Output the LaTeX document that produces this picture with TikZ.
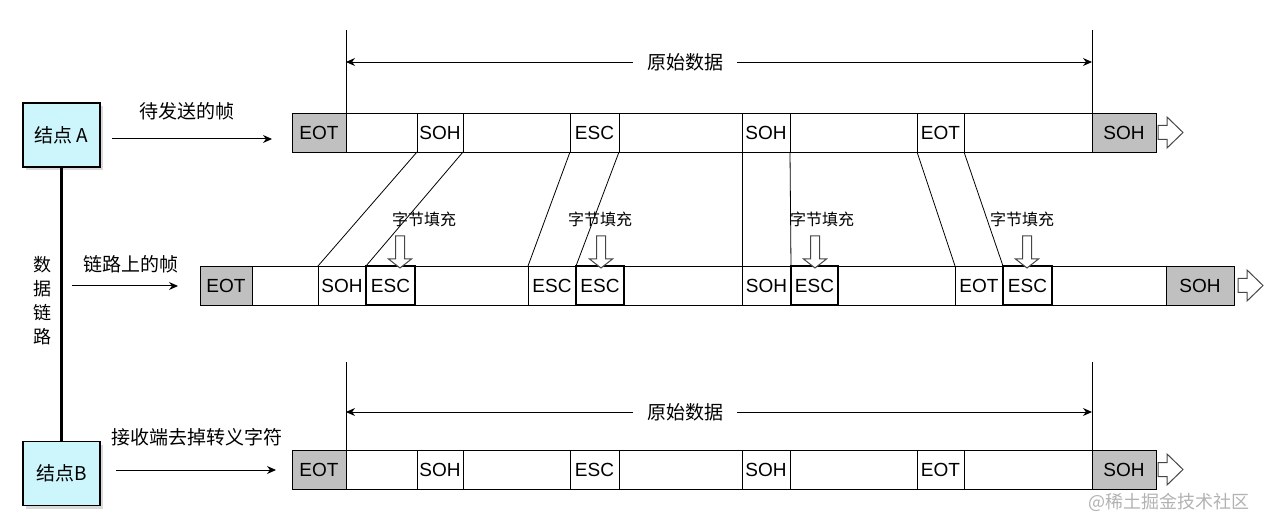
\documentclass[tikz,border=0pt]{standalone}
\usepackage{fontspec}
\setmainfont{Liberation Sans}
\newfontfamily\cjk{Noto Sans CJK SC}
\usepackage{tikz}
\usetikzlibrary{arrows.meta,shadows}
\usepackage{xcolor}
\definecolor{cellgray}{RGB}{192,192,192}
\definecolor{nodecyan}{RGB}{204,246,252}
\definecolor{hollow}{RGB}{70,70,70}
\definecolor{wmark}{RGB}{178,178,178}
\tikzset{
  fcell/.style={draw=black,line width=0.9pt,minimum height=39pt,inner sep=0pt,
    outer sep=0pt,anchor=west,font=\fontsize{19}{19}\selectfont},
  fstuff/.style={fcell,line width=1.3pt},
  fnode/.style={draw=black,line width=1.2pt,fill=nodecyan,inner sep=0pt,
    minimum width=77pt,minimum height=64pt,font=\fontsize{19}{19}\selectfont\cjk,
    drop shadow={shadow xshift=3pt,shadow yshift=-3pt,fill=black,opacity=0.15}},
  flink/.style={line width=1pt,-{Stealth[length=9pt,width=8pt]}},
  fdim/.style={line width=0.9pt,{Stealth[length=9pt,width=8pt]}-{Stealth[length=9pt,width=8pt]}},
  fmove/.style={line width=0.8pt},
  ftext/.style={font=\fontsize{19}{19}\selectfont\cjk,inner sep=0pt},
  fsmall/.style={font=\fontsize{16}{16}\selectfont\cjk,inner sep=0pt},
  harrow/.style={draw=hollow,line width=1pt,fill=white},
  hdown/.pic={\draw[harrow] (-4.5,0) -- (4.5,0) -- (4.5,23) -- (11.5,23) -- (0,32)
    -- (-11.5,23) -- (-4.5,23) -- cycle;},
  hright/.pic={\draw[harrow] (0,-7) -- (9,-7) -- (9,-15.5) -- (25,0) -- (9,15.5)
    -- (9,7) -- (0,7) -- cycle;},
}

\begin{document}
\begin{tikzpicture}[x=1pt,y=-1pt]
  \useasboundingbox (0,0) rectangle (1267,529);
  % stations and the link between them
  \node[fnode] (A) at (61.5,135) {结点 A};
  \node[fnode] (B) at (61.5,473.5) {结点B};
  \draw[line width=3pt] (A.south) -- (B.north);
  \node[ftext,align=center,font=\fontsize{18}{24}\selectfont\cjk] (dl) at (42,301) {数\\据\\链\\路};

  % sent and received frames
  \foreach \r/\y in {a/132.5,c/469.5}
    \foreach \n/\a/\b/\t/\f in {1/292/346/EOT/cellgray,2/346/417//white,3/417/463/SOH/white,
                                4/463/570//white,5/570/619/ESC/white,6/619/742//white,
                                7/742/790/SOH/white,8/790/917//white,9/917/964/EOT/white,
                                10/964/1092//white,11/1092/1156/SOH/cellgray}
      {\node[fcell,fill=\f,minimum width={(\b-\a)*1pt}] (\r\n) at (\a,\y) {\t};}
  % frame on the link
  \foreach \n/\a/\b/\t/\f in {1/200/252/EOT/cellgray,2/252/318//white,3/318/366/SOH/white,
                              5/415/528//white,6/528/576/ESC/white,8/624/742//white,
                              9/742/791/SOH/white,11/838/955//white,12/955/1003/EOT/white,
                              14/1052/1166//white,15/1166/1234/SOH/cellgray}
    {\node[fcell,fill=\f,minimum width={(\b-\a)*1pt}] (m\n) at (\a,285.5) {\t};}
  \foreach \n/\a/\b in {4/366/415,7/576/624,10/791/838,13/1003/1052}
    {\node[fstuff,fill=white,minimum width={(\b-\a)*1pt}] (m\n) at (\a,285.5) {ESC};}
  \pic at (1158,132.5) {hright};
  \pic at (1238,285.5) {hright};
  \pic at (1158,469.5) {hright};

  % original data span
  \foreach \r/\t/\d in {a/30/62,c/362/412}
  {
    \coordinate (\r lt) at (346,\t);
    \coordinate (\r rt) at (1092,\t);
    \coordinate (\r ld) at (346,\d);
    \coordinate (\r rd) at (1092,\d);
    \draw[fmove] (\r lt) -- (\r2.north west);
    \draw[fmove] (\r rt) -- (\r11.north west);
    \draw[fdim] (\r ld) -- node[pos=0.455,ftext,fill=white,inner xsep=14pt,inner ysep=2pt] (\r lab) {原始数据} (\r rd);
  }

  % byte mapping between the frames
  \foreach \p/\q in {a3.south west/m3.north west,a3.south east/m4.north west,
                     a5.south west/m6.north west,a5.south east/m7.north west,
                     a7.south west/m9.north west,a7.south east/m10.north west,
                     a9.south west/m12.north west,a9.south east/m13.north west}
    \draw[fmove] (\p) -- (\q);
  \foreach \x/\lx in {400/424,601/600,815/822,1027/1022}
  {
    \node[fsmall] (s\x) at (\lx,219) {字节填充};
    \pic at (\x,236) {hdown};
  }

  % frame arrows
  \coordinate (aout) at (112,139);  \coordinate (ain) at (272,139);
  \coordinate (mout) at (72,286);   \coordinate (min) at (178,286);
  \coordinate (cout) at (116,470);  \coordinate (cin) at (276,470);
  \draw[flink] (aout) -- (ain);
  \draw[flink] (mout) -- (min);
  \draw[flink] (cout) -- (cin);
  \node[ftext] (la) at (187,111) {待发送的帧};
  \node[ftext] (lm) at (131,264) {链路上的帧};
  \node[ftext] (lc) at (197,437) {接收端去掉转义字符};

  \node[font=\fontsize{18}{18}\selectfont\cjk,text=wmark,anchor=west,inner sep=0pt] (wm) at (1088,502) {@稀土掘金技术社区};
\end{tikzpicture}
\end{document}
